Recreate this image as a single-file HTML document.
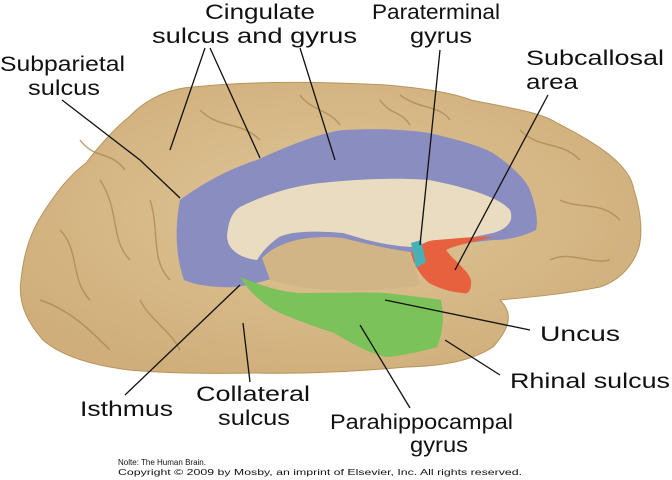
<!DOCTYPE html>
<html><head><style>
body{margin:0;background:#fff}
svg{display:block}
text{font-family:"Liberation Sans",sans-serif;fill:#111}
</style></head><body>
<svg width="672" height="480" viewBox="0 0 672 480">
<defs>
<radialGradient id="g" cx="50%" cy="45%" r="60%"><stop offset="0" stop-color="#e0c697"/><stop offset="1" stop-color="#cfae7a"/></radialGradient>
</defs>
<path d="M129,117 C150,95 175,88 193,87 C260,80 330,82 386,85 C420,88 450,92 471,100 C510,108 540,112 557,123 C600,145 630,165 634,190 C642,215 642,235 639,247 C632,270 615,282 600,287 C560,295 520,298 500,300 C515,315 508,330 493,347 C470,362 440,366 407,367 C350,372 300,374 257,373 C200,374 160,373 129,370 C90,365 60,355 43,340 C25,320 18,300 21,280 C24,250 32,230 43,213 C58,190 70,175 86,163 C100,145 115,128 129,117 Z" fill="url(#g)" stroke="#b8935e" stroke-width="1"/>
<g stroke="#a8844f" stroke-width="1.5" fill="none" opacity="0.7">
<path d="M60,230 C80,250 70,280 90,300 M100,180 C120,210 110,240 130,260 M40,300 C70,310 90,330 110,350 M140,300 C150,320 170,330 180,350 M200,110 C220,130 240,120 260,140 M300,95 C310,110 330,110 340,125 M400,95 C420,110 440,105 450,120 M520,130 C540,150 560,140 580,160 M560,200 C580,210 600,200 620,220 M550,260 C570,250 590,265 610,260 M80,140 C95,160 110,150 125,170 M150,200 C160,230 150,260 170,280 M380,100 C390,115 400,110 410,125"/>
</g>
<path d="M180,200 C200,185 230,168 257,160 C290,145 320,133 343,130 C380,128 410,130 429,133 C460,140 480,146 493,153 C515,168 528,182 531,193 C537,210 538,222 536,230 C520,238 505,240 493,240 L450,245 L420,262 L300,270 C270,280 250,285 236,287 C215,288 195,285 184,280 C175,255 175,225 180,200 Z" fill="#8a8dc0"/>
<path d="M227,237 C228,222 232,212 240,207 C270,192 300,185 321,183 C370,178 405,178 429,180 C470,188 500,198 510,210 C515,222 505,230 493,233 C460,240 430,245 411,247 C380,245 360,238 343,233 C310,230 290,232 279,237 C268,245 262,252 257,260 C240,258 228,250 227,237 Z" fill="#eadcc0"/>
<path d="M262,258 C280,240 310,235 343,238 C370,245 395,250 411,252 L420,285 C380,292 320,295 270,280 Z" fill="#d2b586"/>
<path d="M240,277 C260,285 280,292 300,293 C330,293 360,292 386,293 C410,296 430,298 441,300 C445,320 442,335 437,347 C420,352 400,356 386,357 C365,352 350,342 334,333 C310,325 290,318 274,310 C258,300 248,290 240,277 Z" fill="#7cc25a"/>
<path d="M411,253 C418,245 428,240 437,240 C460,238 480,236 493,237 C475,242 455,245 446,250 C455,262 468,270 471,280 C472,290 468,295 463,293 C450,292 438,288 429,283 C420,275 414,265 411,253 Z" fill="#e8613e"/>
<path d="M411,243 L421,240 L426,262 L416,268 Z" fill="#4ab0b8"/>
<g stroke="#111" stroke-width="1.3" fill="none">
<path d="M205,48 L170,150 M210,48 L260,158 M300,48 L335,160"/>
<path d="M62,100 L140,160 L180,198"/>
<path d="M440,50 L420,245"/>
<path d="M548,95 L455,270"/>
<path d="M530,330 L385,300"/>
<path d="M500,375 L445,340"/>
<path d="M125,395 L240,285"/>
<path d="M250,382 L243,323"/>
<path d="M410,408 L360,325"/>
</g>
<g font-size="21">
<text x="205" y="19" textLength="110" lengthAdjust="spacingAndGlyphs">Cingulate</text>
<text x="152" y="43" textLength="205" lengthAdjust="spacingAndGlyphs">sulcus and gyrus</text>
<text x="372" y="19" textLength="128" lengthAdjust="spacingAndGlyphs">Paraterminal</text>
<text x="410" y="43" textLength="62" lengthAdjust="spacingAndGlyphs">gyrus</text>
<text x="0" y="71" textLength="125" lengthAdjust="spacingAndGlyphs">Subparietal</text>
<text x="28" y="95" textLength="72" lengthAdjust="spacingAndGlyphs">sulcus</text>
<text x="526" y="65" textLength="138" lengthAdjust="spacingAndGlyphs">Subcallosal</text>
<text x="526" y="89" textLength="52" lengthAdjust="spacingAndGlyphs">area</text>
<text x="540" y="341" textLength="80" lengthAdjust="spacingAndGlyphs">Uncus</text>
<text x="510" y="388" textLength="160" lengthAdjust="spacingAndGlyphs">Rhinal sulcus</text>
<text x="80" y="416" textLength="93" lengthAdjust="spacingAndGlyphs">Isthmus</text>
<text x="196" y="401" textLength="114" lengthAdjust="spacingAndGlyphs">Collateral</text>
<text x="218" y="425" textLength="72" lengthAdjust="spacingAndGlyphs">sulcus</text>
<text x="330" y="429" textLength="183" lengthAdjust="spacingAndGlyphs">Parahippocampal</text>
<text x="410" y="452" textLength="58" lengthAdjust="spacingAndGlyphs">gyrus</text>
</g>
<text x="118" y="465" font-size="8" textLength="88" lengthAdjust="spacingAndGlyphs">Nolte: The Human Brain.</text>
<text x="118" y="475" font-size="8" textLength="404" lengthAdjust="spacingAndGlyphs">Copyright © 2009 by Mosby, an imprint of Elsevier, Inc. All rights reserved.</text>
</svg>
</body></html>
